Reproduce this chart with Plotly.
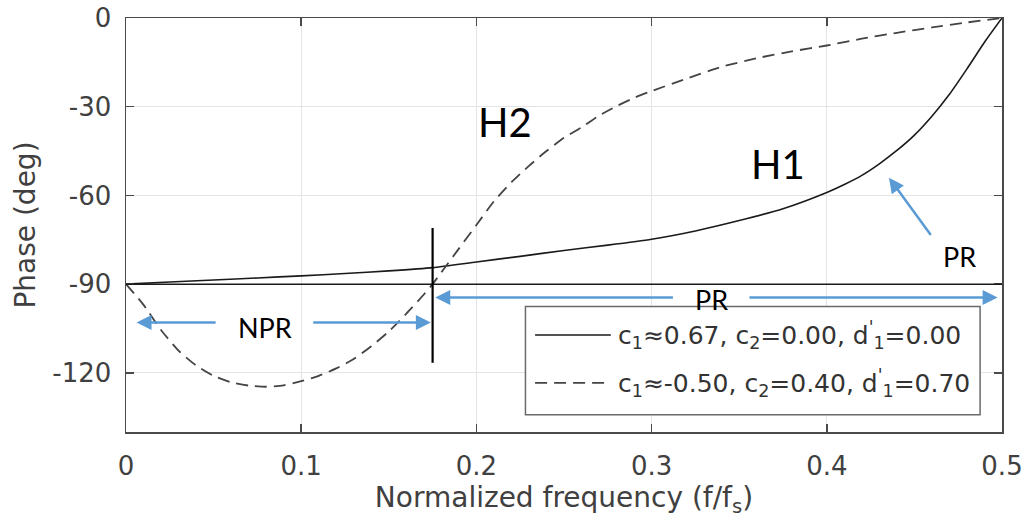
import plotly.graph_objects as go

# ---------------- data ----------------
freq_h1 = [0, 0.025, 0.05, 0.075, 0.1, 0.125, 0.15, 0.175, 0.2, 0.225, 0.25, 0.275,
           0.3, 0.325, 0.35, 0.375, 0.4, 0.41, 0.42, 0.43, 0.44, 0.45, 0.46, 0.47,
           0.48, 0.49, 0.5]
phase_h1 = [-90, -89.3, -88.6, -87.9, -87.2, -86.4, -85.5, -84.4, -82.5, -80.6, -78.6,
            -76.8, -74.8, -72.0, -68.5, -64.5, -59.0, -56.3, -53.2, -49.3, -44.8, -39.6,
            -33.2, -25.8, -17.2, -8.2, 0]

freq_h2 = [0, 0.01, 0.02, 0.03, 0.04, 0.05, 0.06, 0.07, 0.08, 0.09, 0.1, 0.11, 0.12,
           0.13, 0.14, 0.15, 0.16, 0.17, 0.175, 0.18, 0.19, 0.2, 0.21, 0.22, 0.23, 0.24,
           0.25, 0.26, 0.27, 0.28, 0.29, 0.3, 0.32, 0.34, 0.36, 0.38, 0.4, 0.42, 0.44,
           0.46, 0.48, 0.5]
phase_h2 = [-90, -97, -105.5, -112.5, -117.5, -121, -123.2, -124.3, -124.7, -124.2,
            -122.8, -121, -118.5, -115.3, -111, -106, -100, -93.5, -90, -86, -78, -70,
            -62, -55.5, -50, -45, -40.5, -37, -33, -29.8, -27, -24.7, -20.5, -16.5,
            -13.6, -11.3, -9.3, -7, -5, -3.2, -1.5, 0]

legend_labels = [
    "c<sub>1</sub>≈0.67, c<sub>2</sub>=0.00, d<sup>'</sup><sub>1</sub>=0.00",
    "c<sub>1</sub>≈-0.50, c<sub>2</sub>=0.40, d<sup>'</sup><sub>1</sub>=0.70",
]

x_ticks = [0, 0.1, 0.2, 0.3, 0.4, 0.5]
x_tick_labels = ["0", "0.1", "0.2", "0.3", "0.4", "0.5"]
y_ticks = [0, -30, -60, -90, -120]
y_tick_labels = ["0", "-30", "-60", "-90", "-120"]

ref_phase = -90          # reference phase line
npr_boundary = 0.175     # boundary between NPR and PR regions

# ---------------- figure ----------------
AXIS_COL = "#4a4a4a"
TXT_COL = "#404040"
BLUE = "#5B9BD5"
DV = "DejaVu Sans, Verdana, sans-serif"
ANN_FONT = "Lato, Carlito, Liberation Sans, sans-serif"

fig = go.Figure()
fig.add_trace(go.Scatter(x=freq_h1, y=phase_h1, mode="lines",
                         line=dict(color="#1a1a1a", width=1.6, shape="spline",
                                   smoothing=0.6),
                         showlegend=False, hoverinfo="skip"))
fig.add_trace(go.Scatter(x=freq_h2, y=phase_h2, mode="lines",
                         line=dict(color="#444444", width=1.8, dash="12px,7px",
                                   shape="spline", smoothing=0.6),
                         showlegend=False, hoverinfo="skip"))

shapes = [
    dict(type="line", xref="x", yref="y", x0=freq_h1[0], x1=freq_h1[-1],
         y0=ref_phase, y1=ref_phase, line=dict(color="#1a1a1a", width=1.5)),
    dict(type="line", xref="x", yref="y", x0=npr_boundary, x1=npr_boundary,
         y0=-116.6, y1=-71, line=dict(color="black", width=2.2)),
    dict(type="rect", xref="x", yref="y", x0=0.228, x1=0.4875, y0=-134.2, y1=-97.6,
         fillcolor="white", line=dict(color="#6a6a6a", width=1.5)),
    dict(type="line", xref="x", yref="y", x0=0.2335, x1=0.2767, y0=-107.2, y1=-107.2,
         line=dict(color="#1a1a1a", width=1.6)),
    dict(type="line", xref="x", yref="y", x0=0.2335, x1=0.2767, y0=-123.4, y1=-123.4,
         line=dict(color="#444444", width=1.8, dash="12px,7px")),
]

annotations = []
def arrow(head, tail):
    annotations.append(dict(x=head[0], y=head[1], ax=tail[0], ay=tail[1],
                            xref="x", yref="y", axref="x", ayref="y", text="",
                            showarrow=True, arrowhead=2, arrowsize=1.2,
                            arrowwidth=2.5, arrowcolor=BLUE, standoff=0))

def label(x, y, txt, size):
    annotations.append(dict(x=x, y=y, xref="x", yref="y", text=txt, showarrow=False,
                            font=dict(family=ANN_FONT, size=size, color="black"),
                            xanchor="center", yanchor="middle"))

arrow((0.006, -103), (0.052, -103))
arrow((0.174, -103), (0.106, -103))
label(0.0795, -104.5, "NPR", 27)
arrow((0.1765, -94.5), (0.313, -94.5))
arrow((0.4975, -94.5), (0.355, -94.5))
label(0.334, -95.3, "PR", 27)
arrow((0.4355, -54), (0.46, -73.9))
label(0.476, -80.7, "PR", 27)
label(0.2165, -35, "H2", 40)
label(0.372, -49.3, "H1", 40)

for lbl, yy in zip(legend_labels, [-107.2, -123.4]):
    annotations.append(dict(x=0.2795, y=yy, xref="x", yref="y", text=lbl,
                            showarrow=False, xanchor="left", yanchor="middle",
                            font=dict(family=DV, size=25, color="#333333")))

fig.update_layout(
    width=1025, height=526,
    margin=dict(l=126, r=23, t=18, b=94),
    paper_bgcolor="white", plot_bgcolor="white",
    font=dict(family=DV, color=TXT_COL),
    shapes=shapes, annotations=annotations,
)
fig.update_xaxes(range=[0, 0.5], tickvals=x_ticks, ticktext=x_tick_labels,
                 automargin=False, ticklabeloverflow="allow",
                 showgrid=True, gridcolor="#e4e4e4", gridwidth=1,
                 showline=True, linecolor=AXIS_COL, linewidth=1.5, mirror="ticks",
                 ticks="inside", ticklen=8, tickcolor=AXIS_COL, tickwidth=1.5,
                 tickfont=dict(family=DV, size=26, color=TXT_COL), ticklabelstandoff=10,
                 zeroline=False,
                 title=dict(text="Normalized frequency (f/f<sub>s</sub>)",
                            font=dict(family=DV, size=28, color=TXT_COL), standoff=6))
fig.update_yaxes(range=[-140, 0], tickvals=y_ticks, ticktext=y_tick_labels,
                 automargin=False, ticklabeloverflow="allow",
                 showgrid=True, gridcolor="#e4e4e4", gridwidth=1,
                 showline=True, linecolor=AXIS_COL, linewidth=1.5, mirror="ticks",
                 ticks="inside", ticklen=8, tickcolor=AXIS_COL, tickwidth=1.5,
                 tickfont=dict(family=DV, size=26, color=TXT_COL), ticklabelstandoff=8,
                 zeroline=False,
                 title=dict(text="Phase (deg)", font=dict(family=DV, size=28,
                                                          color=TXT_COL),
                            standoff=8))

# remove the browser's default 8 px body margin so the figure fills the window
fig.write_html("out.html",
               config={"displayModeBar": False, "staticPlot": True},
               post_script="document.body.style.margin='0';"
                           "document.body.style.overflow='hidden';")
